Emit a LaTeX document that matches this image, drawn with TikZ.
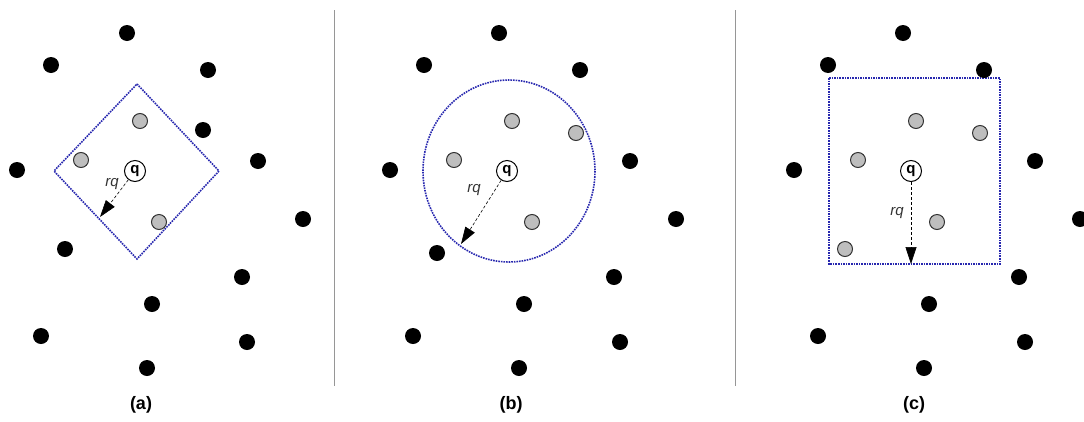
\documentclass[tikz,border=0pt]{standalone}
\usepackage{fontspec}
\setmainfont{Liberation Sans}
\usetikzlibrary{arrows.meta}
\definecolor{regblue}{RGB}{40,40,175}
\definecolor{grayfill}{RGB}{190,190,190}
\definecolor{sepgray}{RGB}{150,150,150}
\tikzset{
  bdot/.style={circle,fill=black,inner sep=0pt,minimum size=16pt},
  gdot/.style={circle,draw=black!80,fill=grayfill,line width=1pt,inner sep=0pt,minimum size=15pt},
  qnode/.style={circle,draw=black,fill=white,line width=1pt,inner sep=0pt,minimum size=21pt,font=\bfseries\fontsize{15}{15}\selectfont},
  region/.style={draw=regblue,line width=1.6pt,densely dotted},
  radius arrow/.style={densely dashed,line width=0.6pt,-{Triangle[length=17pt,width=11pt]}},
  rlabel/.style={font=\itshape\fontsize{15}{15}\selectfont,text=black!80},
  caption/.style={font=\bfseries\fontsize{18}{18}\selectfont},
  sep/.style={draw=sepgray,line width=1pt}
}
\begin{document}
\begin{tikzpicture}[x=1pt,y=-1pt]
\useasboundingbox (0,0) rectangle (1084,421);
% separators
\coordinate (s1t) at (334,10); \coordinate (s1b) at (334,386);
\coordinate (s2t) at (735,10); \coordinate (s2b) at (735,386);
\draw[sep] (s1t) -- (s1b);
\draw[sep] (s2t) -- (s2b);

% ---------- panel (a)
\draw[region] (137,84) -- (219,171) -- (137,259) -- (54,171) -- cycle;
\foreach \n/\x/\y in {a1/127/33,a2/51/65,a3/208/70,a4/203/130,a5/17/170,a6/258/161,a7/303/219,a8/65/249,a9/242/277,a10/152/304,a11/41/336,a12/247/342,a13/147/368}
  \node[bdot] (\n) at (\x,\y) {};
\foreach \n/\x/\y in {ag1/140/121,ag2/81/160,ag3/159/222}
  \node[gdot] (\n) at (\x,\y) {};
\node[qnode] (qa) at (135,171) {q};
\coordinate (ta) at (100,217);
\draw[radius arrow] (qa) -- (ta);
\node[rlabel] (la) at (112,184) {rq};
\node[caption] (ca) at (141,405) {(a)};

% ---------- panel (b)
\draw[region] (509,171) ellipse [x radius=86, y radius=91];
\foreach \n/\x/\y in {b1/499/33,b2/424/65,b3/580/70,b4/390/170,b5/630/161,b6/676/219,b7/437/253,b8/614/277,b9/524/304,b10/413/336,b11/620/342,b12/519/368}
  \node[bdot] (\n) at (\x,\y) {};
\foreach \n/\x/\y in {bg1/512/121,bg2/576/133,bg3/454/160,bg4/532/222}
  \node[gdot] (\n) at (\x,\y) {};
\node[qnode] (qb) at (507,171) {q};
\coordinate (tb) at (461,244);
\draw[radius arrow] (qb) -- (tb);
\node[rlabel] (lb) at (474,190) {rq};
\node[caption] (cb) at (511,405) {(b)};

% ---------- panel (c)
\draw[region] (829,78) rectangle (1000,264);
\foreach \n/\x/\y in {c1/903/33,c2/828/65,c3/984/70,c4/794/170,c5/1035/161,c6/1080/219,c7/1019/277,c8/929/304,c9/818/336,c10/1025/342,c11/924/368}
  \node[bdot] (\n) at (\x,\y) {};
\foreach \n/\x/\y in {cg1/916/121,cg2/980/133,cg3/858/160,cg4/937/222,cg5/845/249}
  \node[gdot] (\n) at (\x,\y) {};
\node[qnode] (qc) at (911,171) {q};
\coordinate (tc) at (911,264);
\draw[radius arrow] (qc) -- (tc);
\node[rlabel] (lc) at (897,213) {rq};
\node[caption] (cc) at (914,405) {(c)};
\end{tikzpicture}
\end{document}
